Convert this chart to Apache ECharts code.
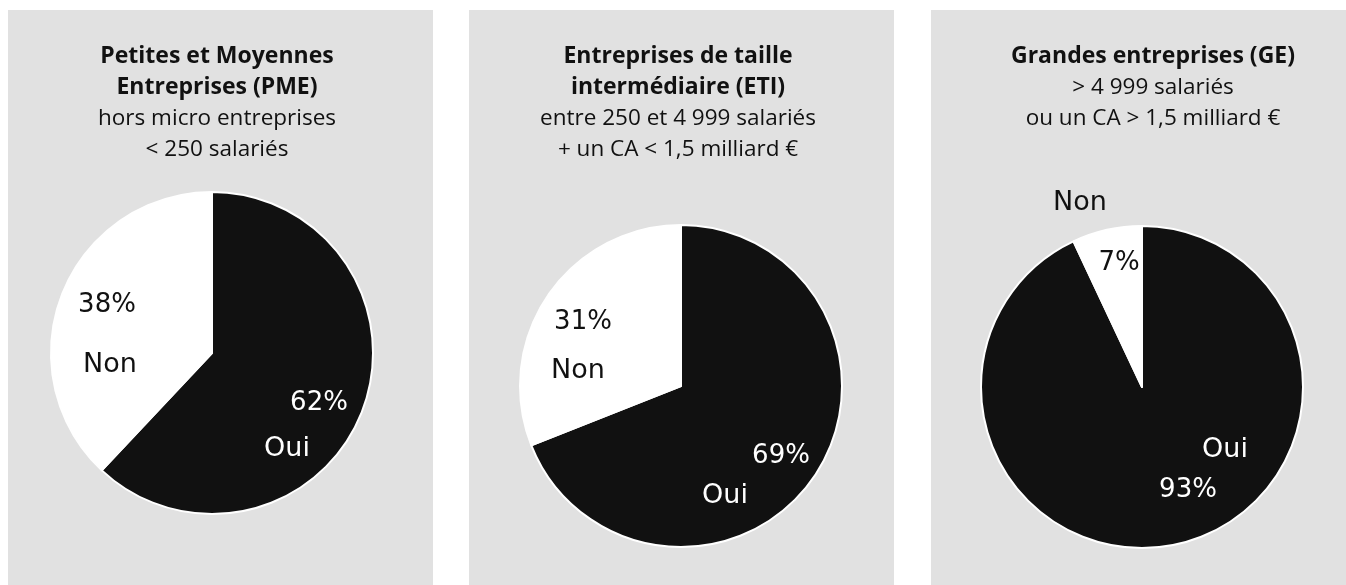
<!DOCTYPE html>
<html>
<head>
<meta charset="utf-8">
<script src="https://cdn.jsdelivr.net/npm/echarts@6/dist/echarts.min.js"></script>
<style>
  html, body { margin: 0; padding: 0; background: #ffffff; }
  #main { width: 1346px; height: 585px; }
</style>
</head>
<body>
<div id="main"></div>
<script>
// categories shared by the three pies
const categories = ["Oui", "Non"];

// shares in %, same order as categories
const pmeValues = [62, 38];
const etiValues = [69, 31];
const geValues = [93, 7];

const panelTitles = [
  "Petites et Moyennes\nEntreprises (PME)",
  "Entreprises de taille\nintermédiaire (ETI)",
  "Grandes entreprises (GE)"
];
const panelSubtitles = [
  "hors micro entreprises\n< 250 salariés",
  "entre 250 et 4 999 salariés\n+ un CA < 1,5 milliard €",
  "> 4 999 salariés\nou un CA > 1,5 milliard €"
];

// layout of each panel (px): panel box, title centre, pie centre, label offsets from pie centre
const panels = [
  {
    values: pmeValues, box: [8, 10, 425], titleX: 217, titleTop: 41,
    center: [212, 353],
    pctOffset: [[107, 50], [-105, -48]],
    nameOffset: [[75, 96], [-102, 12]]
  },
  {
    values: etiValues, box: [469, 10, 425], titleX: 678, titleTop: 41,
    center: [681, 386],
    pctOffset: [[100, 70], [-98, -64]],
    nameOffset: [[44, 110], [-103, -15]]
  },
  {
    values: geValues, box: [931, 10, 425], titleX: 1153, titleTop: 41,
    center: [1142, 387],
    pctOffset: [[46, 103], [-23, -124]],
    nameOffset: [[83, 63], [-62, -184]]
  }
];

const sliceColors = { Oui: "#111111", Non: "#ffffff" };
const textColors = { Oui: "#ffffff", Non: "#111111" };
const RADIUS = 161;

const myChart = echarts.init(document.getElementById("main"));

const graphics = panels.map(function (p) {
  return {
    type: "rect",
    z: -10,
    silent: true,
    shape: { x: p.box[0], y: p.box[1], width: p.box[2], height: 600 },
    style: { fill: "#e1e1e1" }
  };
});

const titles = panels.map(function (p, i) {
  return {
    text: panelTitles[i],
    subtext: panelSubtitles[i],
    left: p.titleX,
    top: p.titleTop,
    textAlign: "center",
    padding: 0,
    itemGap: 0,
    textStyle: {
      fontFamily: "Open Sans",
      fontWeight: "bold",
      fontSize: 23,
      lineHeight: 31,
      color: "#111111"
    },
    subtextStyle: {
      fontFamily: "Open Sans",
      fontSize: 22.5,
      lineHeight: 31,
      color: "#111111"
    }
  };
});

function makeData(values, transparent) {
  return categories.map(function (name, k) {
    return {
      name: name,
      value: values[k],
      itemStyle: { color: transparent ? "rgba(0,0,0,0)" : sliceColors[name] },
      label: { color: textColors[name] }
    };
  });
}

const series = [];
panels.forEach(function (p) {
  const base = {
    type: "pie",
    center: p.center,
    radius: RADIUS,
    startAngle: 90,
    clockwise: true,
    animation: false,
    emphasis: { disabled: true },
    labelLine: { show: false }
  };
  // slices + percentage labels
  series.push(Object.assign({}, base, {
    itemStyle: { borderColor: "#ffffff", borderWidth: 2 },
    label: {
      show: true,
      position: "inside",
      formatter: "{c}%",
      fontFamily: "DejaVu Sans",
      fontSize: 26
    },
    labelLayout: function (params) {
      const o = p.pctOffset[params.dataIndex];
      return { x: p.center[0] + o[0], y: p.center[1] + o[1], align: "center", verticalAlign: "middle" };
    },
    data: makeData(p.values, false)
  }));
  // category name labels on top
  series.push(Object.assign({}, base, {
    silent: true,
    itemStyle: { borderWidth: 0 },
    label: {
      show: true,
      position: "inside",
      formatter: "{b}",
      fontFamily: "DejaVu Sans",
      fontSize: 27
    },
    labelLayout: function (params) {
      const o = p.nameOffset[params.dataIndex];
      return { x: p.center[0] + o[0], y: p.center[1] + o[1], align: "center", verticalAlign: "middle" };
    },
    data: makeData(p.values, true)
  }));
});

const option = {
  backgroundColor: "#ffffff",
  title: titles,
  graphic: graphics,
  series: series
};

myChart.setOption(option);
</script>
</body>
</html>
